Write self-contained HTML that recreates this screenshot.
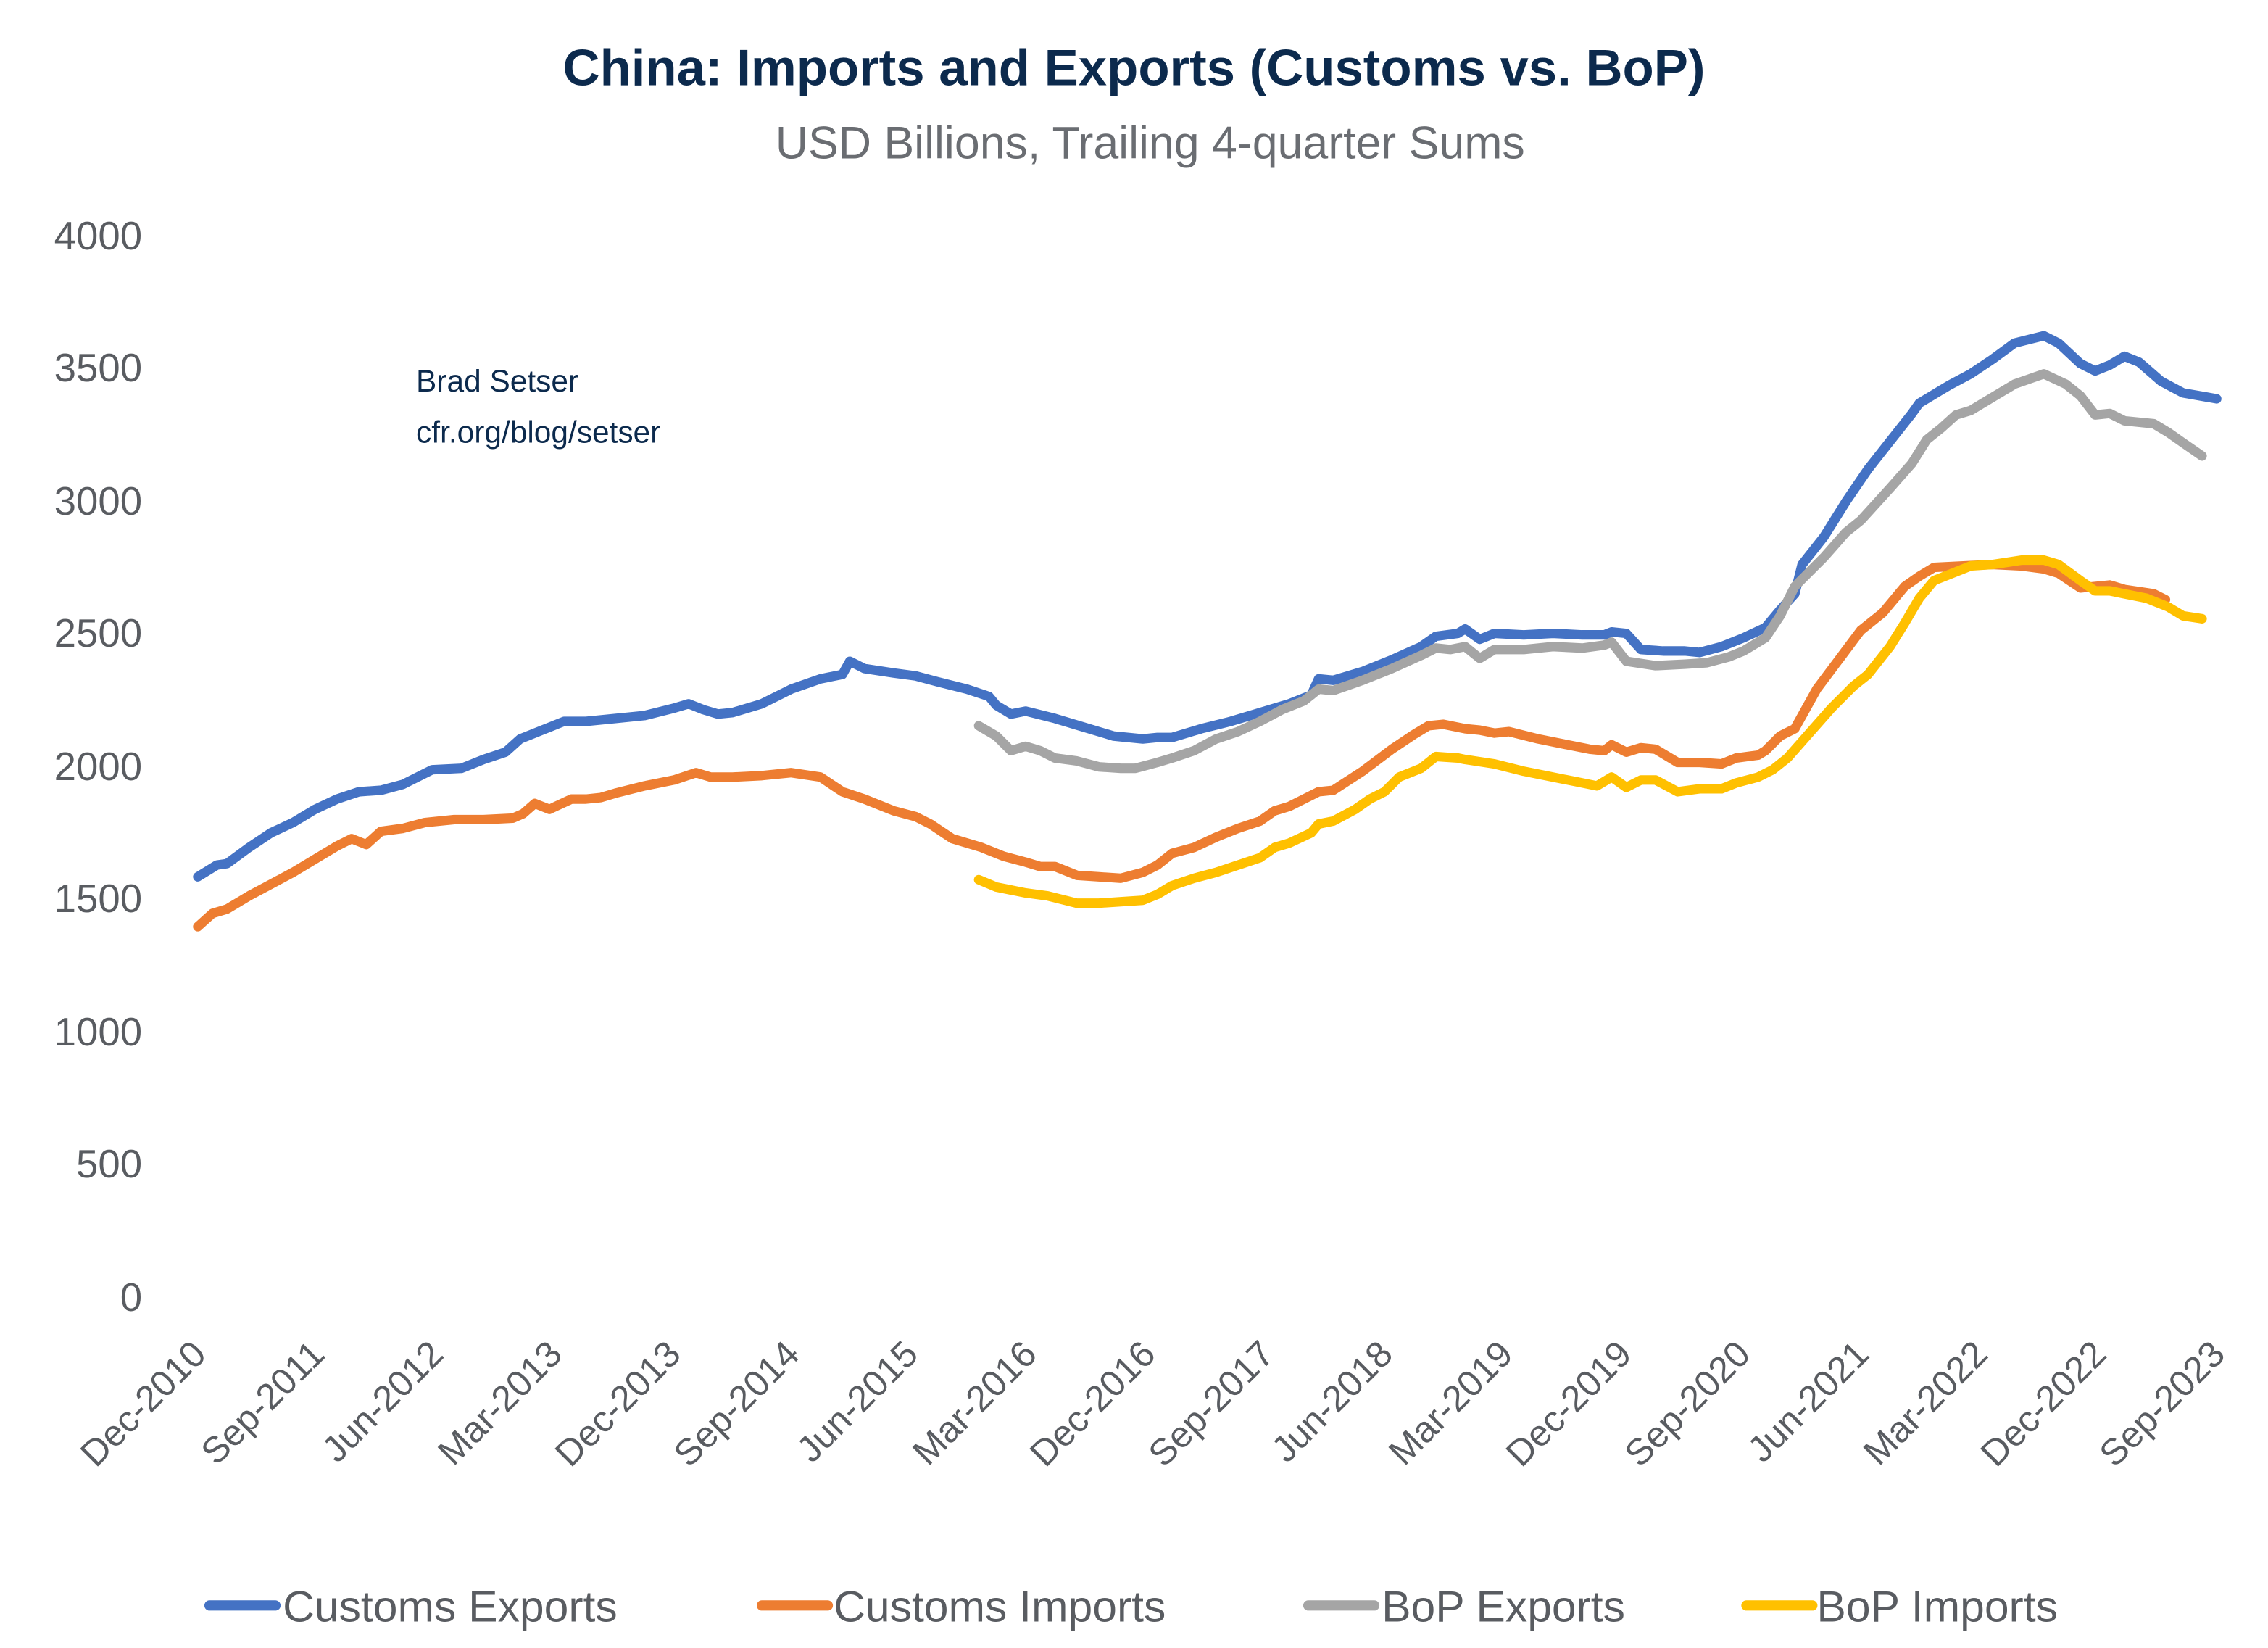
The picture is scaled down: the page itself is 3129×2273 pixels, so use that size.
<!DOCTYPE html>
<html><head><meta charset="utf-8"><style>
html,body{margin:0;padding:0;background:#fff;}
svg{display:block;}
text{font-family:"Liberation Sans",sans-serif;}
</style></head><body>
<svg width="3129" height="2273" viewBox="0 0 1548 1124" preserveAspectRatio="none" xmlns="http://www.w3.org/2000/svg">
<rect width="1548" height="1124" fill="#fff"/>
<text x="774" y="58" text-anchor="middle" font-size="35" font-weight="bold" fill="#0c2a4d">China: Imports and Exports (Customs vs. BoP)</text>
<text x="785" y="108" text-anchor="middle" font-size="31" fill="#6a6d72">USD Billions, Trailing 4-quarter Sums</text>
<g font-size="27" fill="#595c61" text-anchor="end">
<text x="97" y="170">4000</text><text x="97" y="260">3500</text><text x="97" y="351">3000</text>
<text x="97" y="441">2500</text><text x="97" y="532">2000</text><text x="97" y="622">1500</text>
<text x="97" y="713">1000</text><text x="97" y="803">500</text><text x="97" y="894">0</text>
</g>
<text x="284" y="267" font-size="21" fill="#0c2a4d">Brad Setser</text>
<text x="284" y="302" font-size="21" fill="#0c2a4d">cfr.org/blog/setser</text>
<g font-size="25" fill="#595c61" text-anchor="end">
<text transform="translate(142,925) rotate(-45)">Dec-2010</text>
<text transform="translate(223,925) rotate(-45)">Sep-2011</text>
<text transform="translate(304,925) rotate(-45)">Jun-2012</text>
<text transform="translate(385,925) rotate(-45)">Mar-2013</text>
<text transform="translate(466,925) rotate(-45)">Dec-2013</text>
<text transform="translate(547,925) rotate(-45)">Sep-2014</text>
<text transform="translate(628,925) rotate(-45)">Jun-2015</text>
<text transform="translate(709,925) rotate(-45)">Mar-2016</text>
<text transform="translate(790,925) rotate(-45)">Dec-2016</text>
<text transform="translate(871,925) rotate(-45)">Sep-2017</text>
<text transform="translate(952,925) rotate(-45)">Jun-2018</text>
<text transform="translate(1034,925) rotate(-45)">Mar-2019</text>
<text transform="translate(1115,925) rotate(-45)">Dec-2019</text>
<text transform="translate(1196,925) rotate(-45)">Sep-2020</text>
<text transform="translate(1277,925) rotate(-45)">Jun-2021</text>
<text transform="translate(1358,925) rotate(-45)">Mar-2022</text>
<text transform="translate(1439,925) rotate(-45)">Dec-2022</text>
<text transform="translate(1520,925) rotate(-45)">Sep-2023</text>
</g>
<g fill="none" stroke-width="6.5" stroke-linejoin="round" stroke-linecap="round">
<polyline stroke="#4472c4" points="135,598 148,590 155,589 170,578 185,568 200,561 215,552 230,545 245,540 260,539 275,535 295,525 315,524 330,518 345,513 355,504 370,498 385,492 400,492 420,490 440,488 460,483 470,480 480,484 490,487 500,486 520,480 540,470 560,463 575,460 580,451 590,456 610,459 625,461 640,465 660,470 675,475 680,481 690,487 700,485 720,490 740,496 760,502 780,504 790,503 800,503 820,497 840,492 860,486 880,480 895,474 900,463 910,464 930,458 950,450 970,441 980,434 995,432 1000,429 1010,436 1020,432 1040,433 1060,432 1080,433 1095,433 1100,431 1110,432 1120,443 1135,444 1150,444 1160,445 1175,441 1190,435 1205,428 1215,416 1225,405 1230,385 1245,366 1260,342 1275,320 1290,301 1305,282 1310,275 1325,266 1330,263 1345,255 1360,245 1375,234 1395,229 1405,234 1420,248 1430,253 1440,249 1450,243 1460,247 1475,260 1490,268 1513,272"/>
<polyline stroke="#a5a5a5" points="668,495 680,502 690,512 700,509 710,512 720,517 735,519 750,523 765,524 775,524 790,520 800,517 815,512 830,504 845,499 860,492 875,484 890,478 900,470 910,471 930,464 950,456 970,447 980,442 990,443 1000,441 1010,449 1020,443 1040,443 1060,441 1080,442 1095,440 1100,438 1110,451 1130,454 1150,453 1165,452 1180,448 1190,444 1205,435 1215,420 1225,400 1245,380 1260,363 1270,355 1290,333 1305,316 1315,300 1325,292 1335,283 1345,280 1360,271 1375,262 1395,255 1410,262 1420,270 1430,283 1440,282 1450,287 1470,289 1480,295 1490,302 1503,311"/>
<polyline stroke="#ed7d31" points="135,632 145,623 155,620 170,611 185,603 200,595 215,586 230,577 240,572 250,576 260,567 275,565 290,561 310,559 330,559 350,558 357,555 365,548 375,552 390,545 400,545 410,544 420,541 440,536 460,532 475,527 485,530 500,530 520,529 540,527 560,530 575,540 590,545 610,553 625,557 635,562 650,572 670,578 685,584 700,588 710,591 720,591 735,597 750,598 765,599 780,595 790,590 800,582 815,578 830,571 845,565 860,560 870,553 880,550 900,540 910,539 930,526 950,511 965,501 975,495 985,494 1000,497 1010,498 1020,500 1030,499 1050,504 1070,508 1085,511 1095,512 1100,508 1110,513 1120,510 1130,511 1145,520 1160,520 1175,521 1185,517 1200,515 1205,512 1215,502 1225,497 1240,470 1255,450 1270,430 1285,418 1300,400 1310,393 1320,387 1340,386 1360,385 1380,386 1395,388 1405,391 1420,401 1440,399 1450,402 1470,405 1478,409"/>
<polyline stroke="#ffc000" points="668,600 680,605 690,607 700,609 715,611 735,616 750,616 765,615 780,614 790,610 800,604 815,599 830,595 845,590 860,585 870,578 880,575 895,568 900,562 910,560 925,552 935,545 945,540 955,530 970,524 980,516 995,517 1000,518 1020,521 1040,526 1060,530 1075,533 1090,536 1095,533 1100,530 1110,537 1120,532 1130,532 1145,540 1160,538 1175,538 1185,534 1200,530 1210,525 1220,517 1235,500 1250,483 1265,468 1275,460 1290,441 1300,425 1310,408 1320,396 1330,392 1345,386 1360,385 1380,382 1395,382 1405,385 1420,396 1430,403 1440,403 1450,405 1465,408 1480,414 1490,420 1503,422"/>
</g>
<g stroke-width="7" stroke-linecap="round">
<line x1="143" y1="1095" x2="188" y2="1095" stroke="#4472c4"/>
<line x1="520" y1="1095" x2="565" y2="1095" stroke="#ed7d31"/>
<line x1="893" y1="1095" x2="938" y2="1095" stroke="#a5a5a5"/>
<line x1="1192" y1="1095" x2="1237" y2="1095" stroke="#ffc000"/>
</g>
<g font-size="30" fill="#595c61">
<text x="193" y="1106">Customs Exports</text>
<text x="569" y="1106">Customs Imports</text>
<text x="943" y="1106">BoP Exports</text>
<text x="1240" y="1106">BoP Imports</text>
</g>
</svg>
</body></html>
